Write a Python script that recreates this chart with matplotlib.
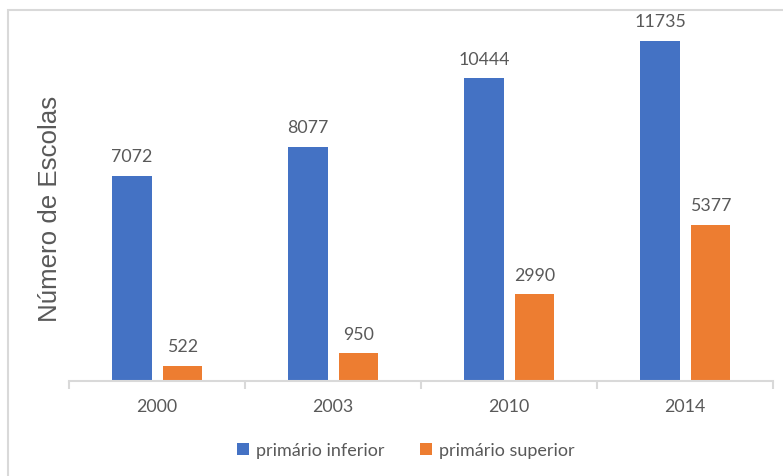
import numpy as np
import matplotlib.pyplot as plt
from matplotlib.patches import Rectangle

years = ["2000", "2003", "2010", "2014"]
inferior = [7072, 8077, 10444, 11735]
superior = [522, 950, 2990, 5377]

blue = "#4472c4"
orange = "#ed7d31"
grey_txt = "#595959"
grey_line = "#d9d9d9"
lab_font = "Lato"

fig = plt.figure(figsize=(7.83, 4.77), dpi=100)
ax = fig.add_axes([69 / 783, 1 - 382 / 477, 704 / 783, 362 / 477])

x = np.arange(len(years))
w = 0.227
b1 = ax.bar(x - 0.142, inferior, w, color=blue, label="primário inferior")
b2 = ax.bar(x + 0.145, superior, w, color=orange, label="primário superior")

for bars in (b1, b2):
    for b in bars:
        h = b.get_height()
        ax.annotate(f"{int(h)}", (b.get_x() + b.get_width() / 2, h),
                    xytext=(0, 8.5), textcoords="offset points", ha="center", va="bottom",
                    fontsize=12.8, color=grey_txt, family=lab_font)

ax.set_xlim(-0.5, 3.5)
ax.set_ylim(0, 12495)
ax.set_yticks([])
ax.set_xticks(x)
ax.set_xticklabels(years, fontsize=12.8, color=grey_txt, family=lab_font)
ax.tick_params(axis="x", length=0, pad=12)
# tick marks between categories
ax.set_xticks(np.arange(-0.5, 4.0, 1.0), minor=True)
ax.tick_params(axis="x", which="minor", length=6, width=1.5, color=grey_line)
for s in ["top", "right", "left"]:
    ax.spines[s].set_visible(False)
ax.spines["bottom"].set_color(grey_line)
ax.spines["bottom"].set_linewidth(1.5)

fig.text(50 / 783, 1 - 209 / 477, "Número de Escolas", rotation=90, ha="center", va="center",
         fontsize=18.6, color=grey_txt, family="Liberation Sans")

leg = fig.legend(loc="center", bbox_to_anchor=(406 / 783, 1 - 451 / 477), ncol=2, frameon=False,
                 prop={"family": lab_font, "size": 13}, handlelength=0.65, handleheight=0.65,
                 handletextpad=0.4, columnspacing=2.0)
for t in leg.get_texts():
    t.set_color(grey_txt)

# chart border
fig.patches.append(Rectangle((8 / 783, -0.1), 1.2, 1.1 - 11 / 477, transform=fig.transFigure,
                             fill=False, edgecolor=grey_line, linewidth=1.5))

fig.savefig("out.png", dpi=100)
